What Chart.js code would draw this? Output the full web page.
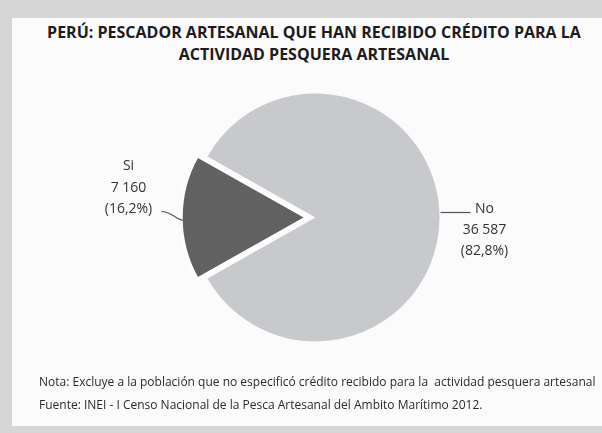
<!DOCTYPE html>
<html lang="es">
<head>
<meta charset="utf-8">
<script src="https://cdn.jsdelivr.net/npm/chart.js@4"></script>
<style>
  html, body { margin: 0; padding: 0; }
  body {
    width: 602px;
    height: 433px;
    background: #d6d6d6;
    position: relative;
    overflow: hidden;
    font-family: "Open Sans", "Noto Sans", sans-serif;
  }
  .sheet {
    position: absolute;
    left: 12px;
    top: 18px;
    right: 0;
    bottom: 7px;
    background: #fbfbfb;
  }
  .chart-title {
    position: absolute;
    left: 0;
    width: 628px;
    top: 21px;
    text-align: center;
    font-weight: bold;
    font-size: 16px;
    line-height: 22px;
    color: #1c1c1c;
  }
  .notes {
    position: absolute;
    left: 39px;
    top: 370px;
    font-size: 12px;
    line-height: 23px;
    color: #2a2a2a;
    white-space: nowrap;
  }
  canvas { position: absolute; left: 0; top: 0; }
</style>
</head>
<body>
<div class="sheet"></div>
<div class="chart-title">PERÚ: PESCADOR ARTESANAL QUE HAN RECIBIDO CRÉDITO PARA LA<br>ACTIVIDAD PESQUERA ARTESANAL</div>
<canvas id="pieChart" width="602" height="433"></canvas>
<div class="notes">
  Nota: Excluye a la población que no especificó crédito recibido para la&nbsp; actividad pesquera artesanal<br>
  Fuente: INEI - I Censo Nacional de la Pesca Artesanal del Ambito Marítimo 2012.
</div>

<script>
// ---------------- DATA ----------------
const categories = ["No", "Si"];
const counts = [36587, 7160];
const countLabels = ["36 587", "7 160"];
const shareLabels = ["(82,8%)", "(16,2%)"];
const sliceColors = ["#c8c9cd", "#616161"];

const total = counts.reduce((a, b) => a + b, 0);
// keep the "Si" slice centred on the left side of the pie
const siSweep = (counts[1] / total) * 360;
const startRotation = 270 + siSweep / 2;

// ---------------- LABELS PLUGIN ----------------
const sliceLabels = {
  id: "sliceLabels",
  afterDatasetsDraw(chart) {
    const ctx = chart.ctx;
    const meta = chart.getDatasetMeta(0);

    ctx.save();
    ctx.font = "14px 'Open Sans', sans-serif";
    ctx.fillStyle = "#333";
    ctx.strokeStyle = "#555";
    ctx.lineWidth = 1.2;
    ctx.textAlign = "center";
    ctx.textBaseline = "middle";

    meta.data.forEach((arc, i) => {
      const r = arc.outerRadius;
      const lines = [categories[i], countLabels[i], shareLabels[i]];

      if (categories[i] === "Si") {
        // Si: small S-shaped leader out of the left rim
        const shift = arc.options.offset / 4;
        const ex = arc.x - r - shift + 1;
        const ey = arc.y + 3;
        ctx.beginPath();
        ctx.moveTo(ex, ey);
        ctx.bezierCurveTo(ex - 8, ey - 1, ex - 12, ey - 9, ex - 22, ey - 9);
        ctx.stroke();
        const tx = arc.x - r - 63;
        const ty = ey - 11;
        lines.slice().reverse().forEach((t, k) => {
          ctx.fillText(t, tx, ty - k * 21.5);
        });
      } else {
        // No: straight leader to the right
        const ex = arc.x + r + 1;
        const ey = arc.y - 5;
        ctx.beginPath();
        ctx.moveTo(ex, ey);
        ctx.lineTo(ex + 30, ey);
        ctx.stroke();
        const tx = arc.x + r + 45;
        lines.forEach((t, k) => {
          ctx.fillText(t, tx, ey - 3 + k * 21);
        });
      }
    });
    ctx.restore();
  },
};

// ---------------- CHART ----------------
const pieCtx = document.getElementById("pieChart").getContext("2d");
const pieChart = new Chart(pieCtx, {
  type: "pie",
  data: {
    labels: categories,
    datasets: [
      {
        data: counts,
        backgroundColor: sliceColors,
        borderColor: "#ffffff",
        borderWidth: [0, 3],
        offset: [0, 36], // arc element draws offset/4 px
        radius: 124,
      },
    ],
  },
  options: {
    responsive: false,
    animation: false,
    rotation: startRotation,
    layout: {
      padding: { left: 165, right: 136, top: 68, bottom: 66 },
    },
    plugins: {
      legend: { display: false },
      tooltip: { enabled: false },
      title: { display: false },
    },
  },
  plugins: [sliceLabels],
});
</script>
</body>
</html>
